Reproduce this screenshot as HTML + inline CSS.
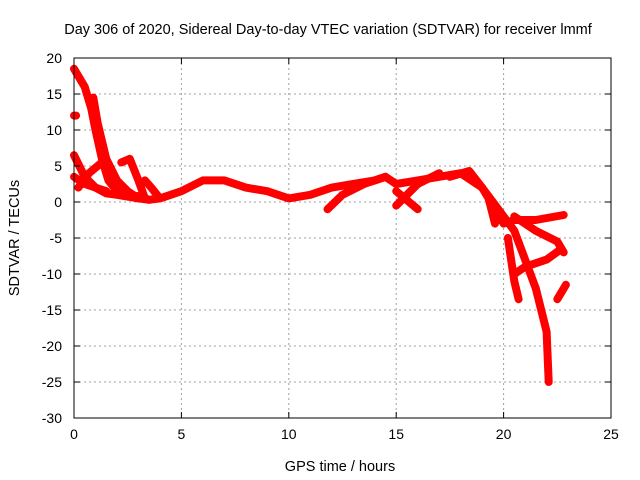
<!DOCTYPE html>
<html><head><meta charset="utf-8"><style>
body{margin:0;background:#fff;}
svg{display:block;font-family:"Liberation Sans",sans-serif;}
</style></head><body>
<svg id="chart" width="640" height="480">
<rect width="640" height="480" fill="#fff"/>
<text x="328" y="34" font-size="14.5" text-anchor="middle">Day 306 of 2020, Sidereal Day-to-day VTEC variation (SDTVAR) for receiver lmmf</text>
<text x="340" y="471" font-size="14.5" text-anchor="middle">GPS time / hours</text>
<text transform="translate(19,238) rotate(-90)" font-size="14.5" text-anchor="middle">SDTVAR / TECUs</text>
<g id="grid"></g><g id="series"></g><g id="axes"></g>
</svg>
<script>
const xTicks=[0,5,10,15,20,25];
const yTicks=[20,15,10,5,0,-5,-10,-15,-20,-25,-30];
const trackA_t=[0,0.5,0.8,1,1.3,1.6,2,2.5,3,3.5,4,5,6,7,8,9,10,11,12,13,14,14.5,15,16,17,18,18.5,19,19.5,20,20.5,21,21.5,22,22.1];
const trackA_v=[18.5,16,13,10,6,3,1.5,1,0.8,0.3,0.5,1.5,3,3,2,1.5,0.5,1,2,2.5,3,3.5,2.5,3,3.5,4,3,2,0,-2,-4,-8,-12,-18,-25];
const trackB_t=[0.9,1.1,1.5,2,2.5,3,3.5];
const trackB_v=[14.5,11,6,3,1.5,0.5,0.3];
const trackC_t=[0,0.5,1,1.5,2,3];
const trackC_v=[6.5,3.5,2,1.2,1,0.5];
const trackD_t=[0,0.5,1.5];
const trackD_v=[3.5,2.5,1.5];
const trackE_t=[0.2,0.7,1.5];
const trackE_v=[2,4,6];
const trackF_t=[2.2,2.6,3,3.3];
const trackF_v=[5.5,6,3,0.5];
const trackG_t=[3.3,3.6,4];
const trackG_v=[3,2,0.5];
const trackH_t=[0,0.1];
const trackH_v=[12,12];
const trackI_t=[11.8,12.5,13.5,14.5];
const trackI_v=[-1,1,2.5,3.5];
const trackJ_t=[15,16,17];
const trackJ_v=[-0.5,2.5,4];
const trackK_t=[15,16];
const trackK_v=[1.5,-1];
const trackL_t=[17.5,18.4,19,19.5,20,20.5,21.5,22.8];
const trackL_v=[3.5,4.3,2,-0.5,-3,-2.5,-2.5,-1.8];
const trackM_t=[20.5,21.5,22.5,22.8];
const trackM_v=[-2,-4,-5.5,-7];
const trackN_t=[20.5,21,22,22.7];
const trackN_v=[-10,-9,-8,-6.5];
const trackO_t=[19.3,19.6];
const trackO_v=[0.5,-3];
const trackP_t=[20.2,20.5,20.7];
const trackP_v=[-5,-11,-13.5];
const trackQ_t=[22.5,22.9];
const trackQ_v=[-13.5,-11.5];
const tracks=[[trackA_t,trackA_v],[trackB_t,trackB_v],[trackC_t,trackC_v],[trackD_t,trackD_v],[trackE_t,trackE_v],[trackF_t,trackF_v],[trackG_t,trackG_v],[trackH_t,trackH_v],[trackI_t,trackI_v],[trackJ_t,trackJ_v],[trackK_t,trackK_v],[trackL_t,trackL_v],[trackM_t,trackM_v],[trackN_t,trackN_v],[trackO_t,trackO_v],[trackP_t,trackP_v],[trackQ_t,trackQ_v]];
const X0=74,X1=611,Y0=58,Y1=418;
const xs=t=>X0+(t-0)/25*(X1-X0);
const ys=v=>Y0+(20-v)/50*(Y1-Y0);
const NS="http://www.w3.org/2000/svg";
const grid=document.getElementById('grid'),ser=document.getElementById('series'),ax=document.getElementById('axes');
function mk(tag,attrs,parent){const e=document.createElementNS(NS,tag);for(const k in attrs)e.setAttribute(k,attrs[k]);parent.appendChild(e);return e;}
xTicks.forEach(t=>{const x=xs(t);
 if(t>0&&t<25){const g=mk('line',{x1:x,x2:x,y1:Y0,y2:Y1,stroke:'#a0a0a0','stroke-dasharray':'2,3'},grid);
 
 }
 mk('line',{x1:x,x2:x,y1:Y1,y2:Y1-6,stroke:'#000'},ax);mk('line',{x1:x,x2:x,y1:Y0,y2:Y0+6,stroke:'#000'},ax);
 const l=mk('text',{x:x,y:Y1+21,'font-size':'14','text-anchor':'middle'},ax);l.textContent=t;
 
 });
yTicks.forEach(v=>{const y=ys(v);
 if(v<20&&v>-30){const g=mk('line',{x1:X0,x2:X1,y1:y,y2:y,stroke:'#a0a0a0','stroke-dasharray':'2,3'},grid);
 
 }
 mk('line',{x1:X0,x2:X0+6,y1:y,y2:y,stroke:'#000'},ax);mk('line',{x1:X1,x2:X1-6,y1:y,y2:y,stroke:'#000'},ax);
 const l=mk('text',{x:X0-12,y:y+5,'font-size':'14','text-anchor':'end'},ax);l.textContent=v;
 
 });
const fr=mk('rect',{x:X0,y:Y0,width:X1-X0,height:Y1-Y0,fill:'none',stroke:'#000'},ax);


tracks.forEach(([ts,vs])=>{
 const pts=ts.map((t,i)=>xs(t).toFixed(1)+','+ys(vs[i]).toFixed(1)).join(' ');
 const p=mk('polyline',{points:pts,fill:'none',stroke:'#f00','stroke-width':'8','stroke-linejoin':'round','stroke-linecap':'round'},ser);
 
 
});
</script>
</body></html>
